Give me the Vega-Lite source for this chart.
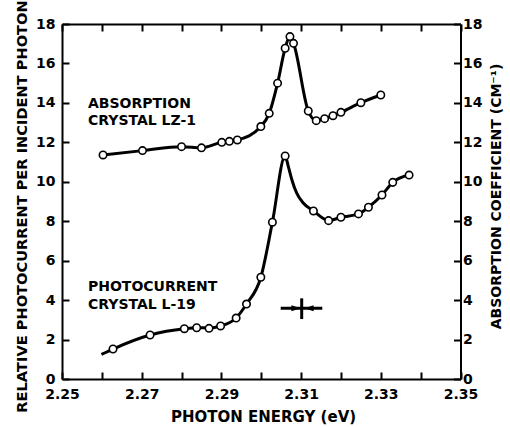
{
  "$schema": "https://vega.github.io/schema/vega-lite/v6.json",
  "width": 398.5,
  "height": 355,
  "autosize": "none",
  "padding": {"left": 62, "top": 24, "right": 49.5, "bottom": 48},
  "background": "white",
  "config": {
    "view": {"stroke": null},
    "font": "DejaVu Sans",
    "axis": {
      "domainColor": "black", "domainWidth": 2,
      "tickColor": "black", "tickWidth": 2, "tickSize": -7,
      "labelColor": "black", "labelFont": "DejaVu Sans", "labelFontSize": 14, "labelFontWeight": "bold",
      "labelFlush": false, "labelOverlap": false, "grid": false,
      "titleColor": "black", "titleFont": "DejaVu Sans", "titleFontSize": 14, "titleFontWeight": "bold"
    }
  },
  "datasets": {
    "absPts": [
      {"e": 2.2603, "v": 11.36}, {"e": 2.2702, "v": 11.58}, {"e": 2.2800, "v": 11.78}, {"e": 2.2850, "v": 11.72},
      {"e": 2.2901, "v": 12.0}, {"e": 2.2920, "v": 12.05}, {"e": 2.2940, "v": 12.12}, {"e": 2.2999, "v": 12.8},
      {"e": 2.3020, "v": 13.47}, {"e": 2.3041, "v": 15.0}, {"e": 2.3060, "v": 16.77}, {"e": 2.3072, "v": 17.36},
      {"e": 2.3081, "v": 17.02}, {"e": 2.3118, "v": 13.59}, {"e": 2.3138, "v": 13.1}, {"e": 2.3159, "v": 13.2},
      {"e": 2.3180, "v": 13.35}, {"e": 2.3200, "v": 13.52}, {"e": 2.3250, "v": 14.01}, {"e": 2.3300, "v": 14.4}
    ],
    "photoPts": [
      {"e": 2.2628, "v": 1.52}, {"e": 2.2721, "v": 2.23}, {"e": 2.2807, "v": 2.55}, {"e": 2.2838, "v": 2.60},
      {"e": 2.2869, "v": 2.57}, {"e": 2.2898, "v": 2.69}, {"e": 2.2937, "v": 3.09}, {"e": 2.2963, "v": 3.80},
      {"e": 2.2999, "v": 5.16}, {"e": 2.3028, "v": 7.95}, {"e": 2.3060, "v": 11.31}, {"e": 2.3131, "v": 8.52},
      {"e": 2.3169, "v": 8.03}, {"e": 2.3200, "v": 8.2}, {"e": 2.3244, "v": 8.37}, {"e": 2.3269, "v": 8.71},
      {"e": 2.3303, "v": 9.33}, {"e": 2.3330, "v": 9.97}, {"e": 2.3371, "v": 10.34}
    ],
    "photoCurve": [
      {"e": 2.2599, "v": 1.25}, {"e": 2.2628, "v": 1.52}, {"e": 2.2721, "v": 2.23}, {"e": 2.2807, "v": 2.55},
      {"e": 2.2838, "v": 2.60}, {"e": 2.2869, "v": 2.59}, {"e": 2.2898, "v": 2.69}, {"e": 2.2937, "v": 3.09},
      {"e": 2.2963, "v": 3.80}, {"e": 2.2999, "v": 5.16}, {"e": 2.3028, "v": 7.95}, {"e": 2.3060, "v": 11.31},
      {"e": 2.3068, "v": 10.77}, {"e": 2.3077, "v": 10.09}, {"e": 2.3089, "v": 9.42}, {"e": 2.3106, "v": 8.91},
      {"e": 2.3131, "v": 8.52}, {"e": 2.3169, "v": 8.03}, {"e": 2.3200, "v": 8.2}, {"e": 2.3244, "v": 8.37},
      {"e": 2.3269, "v": 8.71}, {"e": 2.3303, "v": 9.33}, {"e": 2.3330, "v": 9.97}, {"e": 2.3371, "v": 10.34}
    ],
    "errCross": [
      {"e": 2.30488, "v": 3.585, "e2": 2.31532, "v2": 3.585},
      {"e": 2.31015, "v": 3.04, "e2": 2.31015, "v2": 4.09}
    ],
    "arrows": [
      {"e": 2.30872, "v": 3.585, "dir": "right"},
      {"e": 2.31198, "v": 3.585, "dir": "left"}
    ],
    "notes": [
      {"e": 2.25652, "v": 13.74, "text": "ABSORPTION"},
      {"e": 2.25652, "v": 12.9, "text": "CRYSTAL LZ-1"},
      {"e": 2.25652, "v": 4.48, "text": "PHOTOCURRENT"},
      {"e": 2.25652, "v": 3.55, "text": "CRYSTAL L-19"}
    ]
  },
  "layer": [
    {
      "data": {"name": "absPts"},
      "mark": {"type": "line", "interpolate": "monotone", "color": "black", "strokeWidth": 3},
      "encoding": {
        "x": {"field": "e", "type": "quantitative", "scale": {"domain": [2.25, 2.35], "nice": false, "zero": false},
          "axis": {"orient": "bottom", "values": [2.25, 2.26, 2.27, 2.28, 2.29, 2.30, 2.31, 2.32, 2.33, 2.34, 2.35],
            "labelExpr": "round(datum.value*100) % 2 == 1 ? format(datum.value, '.2f') : ''",
            "labelPadding": 15, "title": "PHOTON ENERGY (eV)", "titleFontSize": 15, "titleX": 201, "titleY": 42,
            "titleAlign": "center", "titleBaseline": "alphabetic"}},
        "y": {"field": "v", "type": "quantitative", "scale": {"domain": [0, 18], "nice": false},
          "axis": {"orient": "left", "values": [0, 2, 4, 6, 8, 10, 12, 14, 16, 18], "labelPadding": 14,
            "title": "RELATIVE PHOTOCURRENT PER INCIDENT PHOTON", "titleFontSize": 14.6, "titleAngle": -90, "titleX": -39.5, "titleY": 182,
            "titleAlign": "center", "titleBaseline": "middle"}}
      }
    },
    {
      "data": {"name": "photoCurve"},
      "mark": {"type": "line", "interpolate": "monotone", "color": "black", "strokeWidth": 3},
      "encoding": {
        "x": {"field": "e", "type": "quantitative", "scale": {"domain": [2.25, 2.35], "nice": false, "zero": false},
          "axis": {"orient": "top", "values": [2.25, 2.26, 2.27, 2.28, 2.29, 2.30, 2.31, 2.32, 2.33, 2.34, 2.35],
            "labels": false, "title": null}},
        "y": {"field": "v", "type": "quantitative", "scale": {"domain": [0, 18], "nice": false},
          "axis": {"orient": "right", "values": [0, 2, 4, 6, 8, 10, 12, 14, 16, 18], "labelPadding": 9,
            "title": "ABSORPTION COEFFICIENT (CM⁻¹)", "titleFontSize": 14, "titleAngle": -90, "titleX": 36, "titleY": 172,
            "titleAlign": "center", "titleBaseline": "middle"}}
      }
    },
    {
      "data": {"name": "errCross"},
      "mark": {"type": "rule", "color": "black", "strokeWidth": 3},
      "encoding": {
        "x": {"field": "e", "type": "quantitative", "scale": {"domain": [2.25, 2.35], "nice": false, "zero": false}, "axis": null},
        "x2": {"field": "e2"},
        "y": {"field": "v", "type": "quantitative", "scale": {"domain": [0, 18], "nice": false}, "axis": null},
        "y2": {"field": "v2"}
      }
    },
    {
      "data": {"name": "arrows"},
      "mark": {"type": "point", "filled": true, "color": "black", "size": 85, "opacity": 1},
      "encoding": {
        "x": {"field": "e", "type": "quantitative", "scale": {"domain": [2.25, 2.35], "nice": false, "zero": false}, "axis": null},
        "y": {"field": "v", "type": "quantitative", "scale": {"domain": [0, 18], "nice": false}, "axis": null},
        "shape": {"field": "dir", "type": "nominal", "legend": null,
          "scale": {"domain": ["right", "left"], "range": ["M-1,-0.65L1,0L-1,0.65Z", "M1,-0.65L-1,0L1,0.65Z"]}}
      }
    },
    {
      "data": {"name": "absPts"},
      "mark": {"type": "point", "shape": "circle", "filled": true, "fill": "white", "stroke": "black", "strokeWidth": 1.6, "size": 55, "opacity": 1},
      "encoding": {
        "x": {"field": "e", "type": "quantitative", "scale": {"domain": [2.25, 2.35], "nice": false, "zero": false}, "axis": null},
        "y": {"field": "v", "type": "quantitative", "scale": {"domain": [0, 18], "nice": false}, "axis": null}
      }
    },
    {
      "data": {"name": "photoPts"},
      "mark": {"type": "point", "shape": "circle", "filled": true, "fill": "white", "stroke": "black", "strokeWidth": 1.6, "size": 55, "opacity": 1},
      "encoding": {
        "x": {"field": "e", "type": "quantitative", "scale": {"domain": [2.25, 2.35], "nice": false, "zero": false}, "axis": null},
        "y": {"field": "v", "type": "quantitative", "scale": {"domain": [0, 18], "nice": false}, "axis": null}
      }
    },
    {
      "data": {"name": "notes"},
      "mark": {"type": "text", "align": "left", "baseline": "alphabetic", "font": "DejaVu Sans", "fontSize": 14, "fontWeight": "bold", "color": "black"},
      "encoding": {
        "x": {"field": "e", "type": "quantitative", "scale": {"domain": [2.25, 2.35], "nice": false, "zero": false}, "axis": null},
        "y": {"field": "v", "type": "quantitative", "scale": {"domain": [0, 18], "nice": false}, "axis": null},
        "text": {"field": "text"}
      }
    }
  ],
  "resolve": {"axis": {"x": "independent", "y": "independent"}}
}
